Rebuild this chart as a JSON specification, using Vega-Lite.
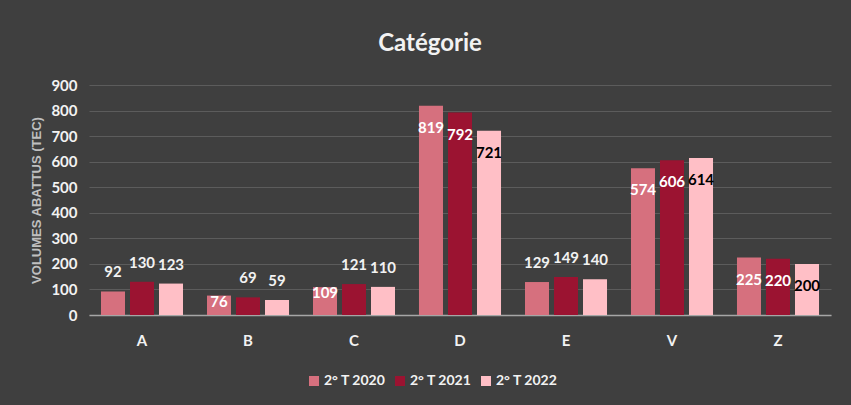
{
  "$schema": "https://vega.github.io/schema/vega-lite/v6.json",
  "width": 742,
  "height": 230,
  "autosize": {"type": "none"},
  "padding": {"left": 89, "top": 85, "right": 20, "bottom": 90},
  "background": "#3f3f3f",
  "title": {"text": "Catégorie", "font": "Lato", "fontSize": 24, "fontWeight": "bold", "color": "#f2f2f2", "anchor": "middle", "dx": -30, "offset": 22},
  "data": {
    "values": [
      {"cat": "A", "s": "2° T 2020", "v": 92},
      {"cat": "A", "s": "2° T 2021", "v": 130},
      {"cat": "A", "s": "2° T 2022", "v": 123},
      {"cat": "B", "s": "2° T 2020", "v": 76},
      {"cat": "B", "s": "2° T 2021", "v": 69},
      {"cat": "B", "s": "2° T 2022", "v": 59},
      {"cat": "C", "s": "2° T 2020", "v": 109},
      {"cat": "C", "s": "2° T 2021", "v": 121},
      {"cat": "C", "s": "2° T 2022", "v": 110},
      {"cat": "D", "s": "2° T 2020", "v": 819},
      {"cat": "D", "s": "2° T 2021", "v": 792},
      {"cat": "D", "s": "2° T 2022", "v": 721},
      {"cat": "E", "s": "2° T 2020", "v": 129},
      {"cat": "E", "s": "2° T 2021", "v": 149},
      {"cat": "E", "s": "2° T 2022", "v": 140},
      {"cat": "V", "s": "2° T 2020", "v": 574},
      {"cat": "V", "s": "2° T 2021", "v": 606},
      {"cat": "V", "s": "2° T 2022", "v": 614},
      {"cat": "Z", "s": "2° T 2020", "v": 225},
      {"cat": "Z", "s": "2° T 2021", "v": 220},
      {"cat": "Z", "s": "2° T 2022", "v": 200}
    ]
  },
  "encoding": {
    "x": {
      "field": "cat", "type": "nominal", "sort": null,
      "scale": {"paddingInner": 0.226, "paddingOuter": 0.113},
      "axis": {"title": null, "labelAngle": 0, "ticks": false, "labelPadding": 18, "labelFont": "Lato", "labelFontWeight": "bold", "labelFontSize": 15, "labelColor": "#f2f2f2", "domainColor": "#a6a6a6", "domainWidth": 1.5}
    },
    "xOffset": {"field": "s", "type": "nominal", "sort": null, "scale": {"paddingInner": 0.172, "paddingOuter": 0}},
    "y": {
      "field": "v", "type": "quantitative",
      "scale": {"domain": [0, 900], "nice": false},
      "axis": {"values": [0, 100, 200, 300, 400, 500, 600, 700, 800, 900], "domain": false, "ticks": false, "gridColor": "#5c5c5c", "gridWidth": 1, "labelPadding": 12, "labelFont": "Lato", "labelFontWeight": "bold", "labelFontSize": 15, "labelColor": "#f2f2f2", "title": "VOLUMES ABATTUS (TEC)", "titleFont": "Liberation Sans", "titleFontWeight": "bold", "titleFontSize": 13, "titleColor": "#bfbfbf", "titlePadding": 7}
    }
  },
  "layer": [
    {
      "mark": {"type": "bar"},
      "encoding": {
        "color": {
          "field": "s", "type": "nominal",
          "scale": {"domain": ["2° T 2020", "2° T 2021", "2° T 2022"], "range": ["#d6707e", "#9b1331", "#ffbfc6"]},
          "legend": {"title": null, "orient": "none", "direction": "horizontal", "legendX": 218, "legendY": 289, "symbolType": "square", "symbolSize": 100, "symbolStrokeWidth": 0, "labelFont": "Lato", "labelFontWeight": "bold", "labelFontSize": 14, "labelColor": "#f2f2f2", "labelOffset": 3, "columnPadding": 7}
        }
      }
    },
    {
      "transform": [{"filter": "indexof(['A','E'], datum.cat) >= 0 || ((datum.cat == 'B' || datum.cat == 'C') && datum.s != '2° T 2020')"}],
      "mark": {"type": "text", "baseline": "middle", "dy": -19, "font": "Lato", "fontWeight": "bold", "fontSize": 15, "color": "#f2f2f2"},
      "encoding": {"text": {"field": "v", "type": "quantitative"}}
    },
    {
      "transform": [{"filter": "indexof(['D','V','Z'], datum.cat) >= 0"}],
      "mark": {"type": "text", "baseline": "middle", "dy": 22, "font": "Lato", "fontWeight": "bold", "fontSize": 15},
      "encoding": {
        "text": {"field": "v", "type": "quantitative"},
        "color": {"condition": {"test": "datum.s == '2° T 2022'", "value": "#000000"}, "value": "#ffffff"}
      }
    },
    {
      "transform": [{"filter": "(datum.cat == 'B' || datum.cat == 'C') && datum.s == '2° T 2020'"}],
      "mark": {"type": "text", "baseline": "middle", "dy": 6, "font": "Lato", "fontWeight": "bold", "fontSize": 15, "color": "#ffffff"},
      "encoding": {"text": {"field": "v", "type": "quantitative"}}
    }
  ],
  "config": {"view": {"stroke": null}}
}
